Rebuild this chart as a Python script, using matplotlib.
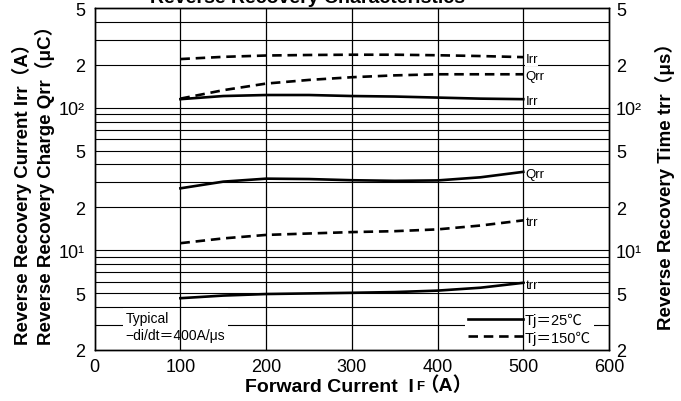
import numpy as np
import matplotlib
matplotlib.use("Agg")
import matplotlib.pyplot as plt
from matplotlib.ticker import NullLocator, FixedLocator, FixedFormatter

plt.rcParams['font.family'] = ['Liberation Sans', 'Noto Sans CJK JP', 'DejaVu Sans']

# forward current (A)
i_f = [100, 150, 200, 250, 300, 350, 400, 450, 500]

# Tj = 150 C (dashed)
irr_150 = [220, 228, 233, 235, 236, 236, 234, 231, 227]
qrr_150 = [116, 133, 148, 157, 164, 169, 172, 172, 172]
trr_150 = [11.2, 12.1, 12.8, 13.1, 13.4, 13.6, 14.0, 14.9, 16.2]

# Tj = 25 C (solid)
irr_25 = [115, 121, 123, 123, 121, 120, 118, 116, 115]
qrr_25 = [27.2, 30.3, 31.8, 31.6, 31.0, 30.7, 30.9, 32.5, 35.5]
trr_25 = [4.6, 4.8, 4.92, 4.97, 5.02, 5.08, 5.2, 5.45, 5.9]

y_ticks = [2, 5, 10, 20, 50, 100, 200, 500]
y_tick_labels = ['2', '5', '10\u00b9', '2', '5', '10\u00b2', '2', '5']
x_ticks = [0, 100, 200, 300, 400, 500, 600]
grid_y = [3, 4, 5, 6, 7, 8, 9, 10, 20, 30, 40, 50, 60, 70, 80, 90, 100, 200, 300, 400]
grid_x = [100, 200, 300, 400, 500]

fig = plt.figure(figsize=(6.81, 4.02), dpi=100)
ax = fig.add_axes([94.7/681, (402-350.7)/402, (609-94.7)/681, (350.7-9.3)/402])

ax.set_xlim(0, 600)
ax.set_yscale('log')
ax.set_ylim(2, 500)

for v in grid_y:
  ax.axhline(v, color='black', lw=0.8, zorder=1)
for v in grid_x:
  ax.axvline(v, color='black', lw=0.9, zorder=3)

dash = (0, (3.6, 2.2))
ln25, = ax.plot(i_f, irr_25, color='black', lw=1.9, zorder=4)
ax.plot(i_f, qrr_25, color='black', lw=1.9, zorder=4)
ax.plot(i_f, trr_25, color='black', lw=1.9, zorder=4)
ln150, = ax.plot(i_f, irr_150, color='black', lw=1.9, ls=dash, zorder=4)
ax.plot(i_f, qrr_150, color='black', lw=1.9, ls=dash, zorder=4)
ax.plot(i_f, trr_150, color='black', lw=1.9, ls=dash, zorder=4)

# curve end labels
for series, name in [(irr_150, 'Irr'), (qrr_150, 'Qrr'), (irr_25, 'Irr'),
                     (qrr_25, 'Qrr'), (trr_150, 'trr'), (trr_25, 'trr')]:
  ax.annotate(name, (i_f[-1], series[-1]), xytext=(1.5, -1.5), textcoords='offset points',
              ha='left', va='center', fontsize=9.5, zorder=5,
              bbox=dict(facecolor='white', edgecolor='none', pad=0.3))

ax.text(0.06, 0.022, 'Typical\n\u2212di/dt\uff1d400A/\u03bcs', transform=ax.transAxes,
        fontsize=10, ha='left', va='bottom', linespacing=1.3, zorder=2,
        bbox=dict(facecolor='white', edgecolor='none', pad=2))

leg = ax.legend([ln25, ln150], ['Tj\uff1d25\u2103', 'Tj\uff1d150\u2103'],
                loc='lower right', bbox_to_anchor=(0.975, 0.0), fontsize=10.5,
                frameon=True, framealpha=1, edgecolor='none', fancybox=False,
                handlelength=3.8, handletextpad=0.1, borderpad=0.2,
                labelspacing=0.2, borderaxespad=0.15)
leg.set_zorder(2)

ax.xaxis.set_major_locator(FixedLocator(x_ticks))
ax.tick_params(axis='x', length=0, pad=6, labelsize=13)
ax.yaxis.set_major_locator(FixedLocator(y_ticks))
ax.yaxis.set_major_formatter(FixedFormatter(y_tick_labels))
ax.yaxis.set_minor_locator(NullLocator())
ax.tick_params(axis='y', length=0, pad=7, labelsize=13)

ax2 = ax.twinx()
ax2.set_yscale('log')
ax2.set_ylim(2, 500)
ax2.yaxis.set_major_locator(FixedLocator(y_ticks))
ax2.yaxis.set_major_formatter(FixedFormatter(y_tick_labels))
ax2.yaxis.set_minor_locator(NullLocator())
ax2.tick_params(axis='y', length=0, pad=5, labelsize=13)

for a in (ax, ax2):
  for s in a.spines.values():
    s.set_linewidth(1.0)

# x axis label, built from pieces so the F can be small
xl = fig.text(414/681, 1-388/402, 'Forward Current  I', ha='right', va='center',
              fontsize=14, fontweight='bold')
xf = ax.annotate('F', xy=(1, 0.18), xycoords=xl, xytext=(1.5, 0), textcoords='offset points',
                 ha='left', va='bottom', fontsize=9.5, fontweight='bold', annotation_clip=False)
ax.annotate('\uff08A\uff09', xy=(1, 0.5), xycoords=xf, xytext=(-4, 1.2), textcoords='offset points',
            ha='left', va='center', fontsize=14, fontweight='bold', annotation_clip=False)

fig.text(22/681, 1-345/402, 'Reverse Recovery Current Irr\uff08A\uff09', rotation=90,
         rotation_mode='anchor', ha='left', va='center', fontsize=13.5, fontweight='bold')
fig.text(45/681, 1-345/402, 'Reverse Recovery Charge Qrr\uff08\u03bcC\uff09', rotation=90,
         rotation_mode='anchor', ha='left', va='center', fontsize=13.5, fontweight='bold')
fig.text(665/681, 1-330/402, 'Reverse Recovery Time trr\uff08\u03bcs\uff09', rotation=90,
         rotation_mode='anchor', ha='left', va='center', fontsize=13.5, fontweight='bold')

fig.text(307/681, 1-3/402, 'Reverse Recovery Characteristics', ha='center', va='baseline',
         fontsize=14, fontweight='bold')

fig.savefig('out.png', dpi=100)
